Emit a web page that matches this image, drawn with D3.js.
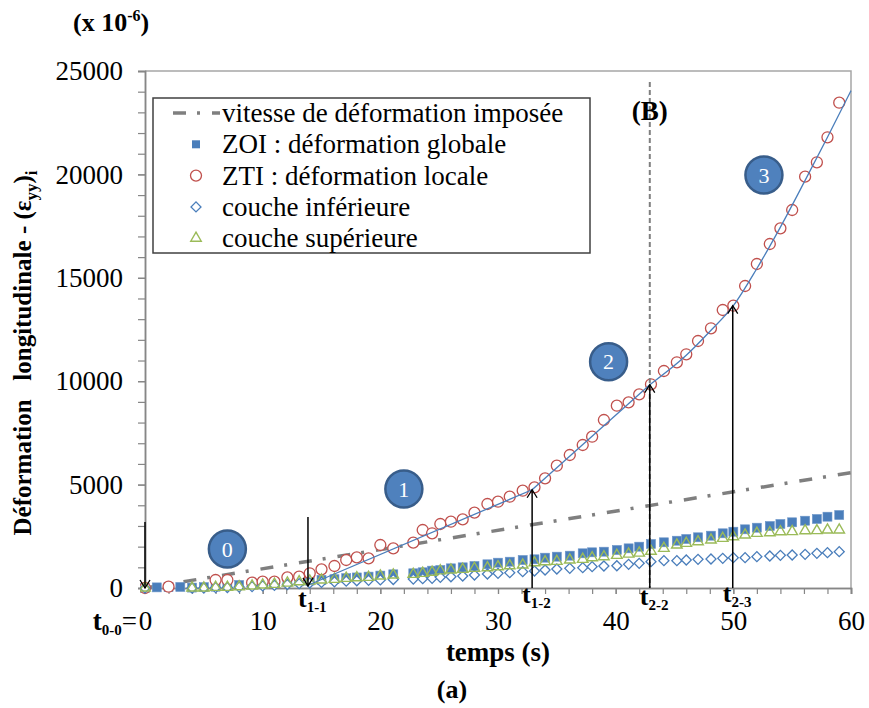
<!DOCTYPE html>
<html>
<head>
<meta charset="utf-8">
<script src="https://cdn.jsdelivr.net/npm/d3@7"></script>
<style>
  body { margin: 0; background: #fff; }
  svg text { font-family: "Liberation Serif", "Tinos", "Times New Roman", "DejaVu Serif", serif !important; }
</style>
</head>
<body>
<div class="chart"></div>
<script>
// time (s) of each sample
const temps = [0, 1, 2, 3, 4, 5, 6, 7, 8, 9.1, 10, 11, 12.1, 13.1, 14, 15, 16.1, 17.1, 18, 19,
  20, 21.1, 22.8, 23.6, 24.4, 25.1, 26, 27, 28, 29.1, 30, 31, 32.1, 33.1, 34, 35, 36.1, 37.2, 38, 39,
  40.1, 41.1, 42, 43, 44.1, 45.2, 46, 47, 48.1, 49.1, 50, 51, 52, 53.1, 54, 55, 56.1, 57.1, 58, 59];

// ZOI : déformation globale
const zoi = [0, 30, 40, 50, 20, 40, 63, 97, 145, 179, 227, 256, 305, 320, 360, 395, 425, 475, 510, 550,
  600, 662, 711, 760, 838, 870, 951, 1000, 1064, 1146, 1224, 1272, 1354, 1388, 1466, 1515, 1563, 1678, 1726, 1756,
  1838, 1918, 1998, 2128, 2210, 2287, 2370, 2452, 2529, 2645, 2722, 2838, 2916, 2998, 3095, 3177, 3254, 3337, 3448, 3530];

// ZTI : déformation locale
const zti = [0, null, 63, null, null, null, 387, 387, null, 256, 305, 305, 517, 546, 711, 904, 1064, 1354, 1484, 1434,
  2079, 1918, 2192, 2805, 2645, 3095, 3206, 3320, 3642, 4062, 4173, 4415, 4705, 4869, 5304, 5914, 6431, 6915, 7316, 8124,
  8815, 8978, 9365, 9850, 10493, 10914, 11301, 11944, 12558, 13443, 13651, 14603, 15667, 16634, 17393, 18279, 19889, 20585, 21794, 23467];

// couche inférieure
const inferieure = [0, null, null, null, 0, 0, 20, 25, 45, 70, 100, 130, 170, 210, 240, 270, 300, 330, 350, 370,
  390, 410, 430, 450, 469, 517, 546, 580, 629, 677, 711, 740, 790, 822, 870, 919, 951, 982, 1030, 1064,
  1078, 1146, 1194, 1272, 1320, 1320, 1354, 1388, 1402, 1434, 1466, 1466, 1515, 1547, 1580, 1596, 1628, 1678, 1708, 1756];

// couche supérieure
const superieure = [0, null, null, null, 0, 0, 34, 34, 63, 97, 145, 179, 240, 305, 338, 387, 421, 469, 498, 517,
  580, 629, 662, 711, 765, 830, 870, 904, 951, 982, 1030, 1078, 1112, 1224, 1272, 1290, 1354, 1388, 1466, 1515,
  1580, 1640, 1690, 1780, 1918, 2079, 2160, 2240, 2321, 2403, 2481, 2563, 2645, 2674, 2722, 2730, 2771, 2775, 2805, 2810];

// vitesse de déformation imposée (end points)
const vitesseT = [0, 60];
const vitesseV = [0, 5580];

// trend lines of the ZTI curve, one per zone
const fitZone1 = [[13.9, 145], [32.9, 4750]];
const fitZone2 = [[32.9, 4750], [42.9, 9830]];
const fitZone3 = [[42.9, 9830], [46, 11250], [48, 12400], [50, 13650], [52, 15450], [54, 17450], [56, 19600], [58, 21800], [60, 24050]];

// zone bubbles
const zoneNames = ['0', '1', '2', '3'];
const zoneT = [7.0, 22.0, 39.4, 52.6];
const zoneV = [1886, 4787, 10944, 19971];

// arrows : time, from, to
const arrowT = [0, 13.85, 32.9, 42.9, 49.95];
const arrowFrom = [3190, 3430, 0, 0, 0];
const arrowTo = [0, 100, 4750, 9830, 13650];
const arrowMain = ['t', 't', 't', 't'];
const arrowSub = ['1-1', '1-2', '2-2', '2-3'];

const lineB = 42.9;

const xTicks = [0, 10, 20, 30, 40, 50, 60];
const yTicks = [0, 5000, 10000, 15000, 20000, 25000];

const legendLabels = ['vitesse de déformation imposée', 'ZOI : déformation globale',
  'ZTI : déformation locale', 'couche inférieure', 'couche supérieure'];

const width = 869;
const height = 708;
const serif = '"Liberation Serif", "Tinos", "Times New Roman", "DejaVu Serif", serif';

const svg = d3.select('.chart').append('svg')
  .attr('width', width)
  .attr('height', height)
  .attr('viewBox', `0 0 ${width} ${height}`)
  .attr('font-family', serif);

const x = d3.scaleLinear().domain([0, 60]).range([145, 851]);
const y = d3.scaleLinear().domain([0, 25000]).range([588, 71]);

const defs = svg.append('defs');
defs.append('clipPath').attr('id', 'plot')
  .append('rect').attr('x', 140).attr('y', 66).attr('width', 712).attr('height', 530);
defs.append('marker')
  .attr('id', 'arrow')
  .attr('viewBox', '-10 -6 12 12')
  .attr('refX', 0).attr('refY', 0)
  .attr('markerWidth', 12).attr('markerHeight', 12)
  .attr('markerUnits', 'userSpaceOnUse')
  .attr('orient', 'auto')
  .append('path')
  .attr('d', 'M-8,-5L0,0L-8,5')
  .attr('fill', 'none')
  .attr('stroke', '#000')
  .attr('stroke-width', 1.3);

/* frame top / right */
svg.append('path')
  .attr('d', `M${x(0)},${y(25000)}H${x(60)}V${y(0)}`)
  .attr('fill', 'none').attr('stroke', '#a6a6a6').attr('stroke-width', 1.5);

/* y axis */
const yMinor = svg.append('g').attr('transform', `translate(${x(0)},0)`)
  .call(d3.axisLeft(y).tickValues(d3.range(0, 25001, 1000)).tickSize(7).tickFormat(''));
const yAxis = svg.append('g').attr('transform', `translate(${x(0)},0)`)
  .call(d3.axisLeft(y).tickValues(yTicks).tickSize(7).tickPadding(15).tickFormat(d3.format('d')));

/* x axis */
const xMinor = svg.append('g').attr('transform', `translate(0,${y(0)})`)
  .call(d3.axisBottom(x).tickValues(d3.range(0, 61, 2)).tickSize(6).tickFormat(''));
const xAxis = svg.append('g').attr('transform', `translate(0,${y(0)})`)
  .call(d3.axisBottom(x).tickValues(xTicks).tickSize(6).tickPadding(17).tickFormat(d3.format('d')));

[yMinor, yAxis, xMinor, xAxis].forEach(g => {
  g.attr('font-family', serif).attr('font-size', 27);
  g.select('.domain').attr('stroke', '#868686').attr('stroke-width', 1.5);
  g.selectAll('.tick line').attr('stroke', '#868686').attr('stroke-width', 1.2);
  g.selectAll('.tick text').attr('font-size', 27).attr('fill', '#000');
});

const plot = svg.append('g').attr('clip-path', 'url(#plot)');

/* imposed strain rate */
plot.append('line')
  .attr('x1', x(vitesseT[0])).attr('y1', y(vitesseV[0]))
  .attr('x2', x(vitesseT[1])).attr('y2', y(vitesseV[1]))
  .attr('stroke', '#7f7f7f').attr('stroke-width', 3.5)
  .attr('stroke-dasharray', '13,11,3,12');

const pts = vals => temps.map((t, i) => ({ t: t, v: vals[i] })).filter(d => d.v !== null);

/* ZOI squares */
plot.selectAll('.zoi').data(pts(zoi)).enter().append('rect')
  .attr('class', 'zoi')
  .attr('x', d => x(d.t) - 4.5).attr('y', d => y(d.v) - 4.5)
  .attr('width', 9).attr('height', 9)
  .attr('fill', '#4a7ebb').attr('stroke', '#6d96c9').attr('stroke-width', 0.6);

/* ZTI circles */
plot.selectAll('.zti').data(pts(zti)).enter().append('circle')
  .attr('class', 'zti')
  .attr('cx', d => x(d.t)).attr('cy', d => y(d.v)).attr('r', 5.5)
  .attr('fill', '#fff').attr('stroke', '#c0504d').attr('stroke-width', 1.3);

/* couche inférieure diamonds */
const diamond = d3.symbol().type(d3.symbolSquare).size(50);
plot.selectAll('.inf').data(pts(inferieure)).enter().append('path')
  .attr('class', 'inf')
  .attr('d', diamond)
  .attr('transform', d => `translate(${x(d.t)},${y(d.v)}) rotate(45)`)
  .attr('fill', '#fff').attr('stroke', '#4a7ebb').attr('stroke-width', 1.3);

/* couche supérieure triangles */
const triangle = d3.symbol().type(d3.symbolTriangle).size(48);
plot.selectAll('.sup').data(pts(superieure)).enter().append('path')
  .attr('class', 'sup')
  .attr('d', triangle)
  .attr('transform', d => `translate(${x(d.t)},${y(d.v)})`)
  .attr('fill', 'none').attr('stroke', '#9bbb59').attr('stroke-width', 1.4);

/* trend lines */
const fitLine = d3.line().x(d => x(d[0])).y(d => y(d[1])).curve(d3.curveMonotoneX);
[fitZone1, fitZone2, fitZone3].forEach(f => {
  plot.append('path').attr('d', fitLine(f))
    .attr('fill', 'none').attr('stroke', '#4a7ebb').attr('stroke-width', 1.3);
});

/* (B) line */
svg.append('line')
  .attr('x1', x(lineB)).attr('x2', x(lineB))
  .attr('y1', 82).attr('y2', y(0))
  .attr('stroke', '#7f7f7f').attr('stroke-width', 2)
  .attr('stroke-dasharray', '5,3');
svg.append('text')
  .attr('x', x(lineB)).attr('y', 120)
  .attr('text-anchor', 'middle')
  .attr('font-size', 27).attr('font-weight', 'bold')
  .text('(B)');

/* arrows */
arrowT.forEach((t, i) => {
  svg.append('line')
    .attr('x1', x(t)).attr('x2', x(t))
    .attr('y1', y(arrowFrom[i])).attr('y2', y(arrowTo[i]))
    .attr('stroke', '#000').attr('stroke-width', 1.5)
    .attr('marker-end', 'url(#arrow)');
});

/* time labels under arrows */
const tLabY = [607, 603, 605, 602];
arrowSub.forEach((s, i) => {
  const tx = svg.append('text')
    .attr('x', x(arrowT[i + 1]) - 10).attr('y', tLabY[i])
    .attr('font-size', 26).attr('font-weight', 'bold');
  tx.append('tspan').text(arrowMain[i]);
  tx.append('tspan').attr('font-size', 15).attr('dy', 5).text(s);
});
const t00 = svg.append('text')
  .attr('x', x(0) - 8).attr('y', 630)
  .attr('text-anchor', 'end')
  .attr('font-size', 27).attr('font-weight', 'bold');
t00.append('tspan').text('t');
t00.append('tspan').attr('font-size', 15).attr('dy', 5).text('0-0');
t00.append('tspan').attr('font-weight', 'normal').attr('dy', -5).text('=');

/* zone bubbles */
zoneNames.forEach((n, i) => {
  const g = svg.append('g').attr('transform', `translate(${x(zoneT[i])},${y(zoneV[i])})`);
  g.append('circle').attr('r', 18.5)
    .attr('fill', '#4f81bd').attr('stroke', '#385d8a').attr('stroke-width', 2.5);
  g.append('text').attr('text-anchor', 'middle').attr('dy', '0.35em')
    .attr('font-size', 22).attr('fill', '#fff').text(n);
});

/* legend */
const lg = svg.append('g');
lg.append('rect')
  .attr('x', 153).attr('y', 98).attr('width', 437).attr('height', 155)
  .attr('fill', '#fff').attr('stroke', '#404040').attr('stroke-width', 1.5);
const rowY = i => 113 + i * 31.3;
legendLabels.forEach((l, i) => {
  lg.append('text').attr('x', 222).attr('y', rowY(i)).attr('dy', '0.33em')
    .attr('font-size', 27).text(l);
});
lg.append('line')
  .attr('x1', 173).attr('x2', 220).attr('y1', rowY(0)).attr('y2', rowY(0))
  .attr('stroke', '#7f7f7f').attr('stroke-width', 3.5)
  .attr('stroke-dasharray', '13,11,3,12');
lg.append('rect').attr('x', 196 - 4).attr('y', rowY(1) - 4).attr('width', 8).attr('height', 8)
  .attr('fill', '#4a7ebb');
lg.append('circle').attr('cx', 196).attr('cy', rowY(2)).attr('r', 5.5)
  .attr('fill', '#fff').attr('stroke', '#c0504d').attr('stroke-width', 1.3);
lg.append('path').attr('d', diamond).attr('transform', `translate(196,${rowY(3)}) rotate(45)`)
  .attr('fill', '#fff').attr('stroke', '#4a7ebb').attr('stroke-width', 1.3);
lg.append('path').attr('d', triangle).attr('transform', `translate(196,${rowY(4)})`)
  .attr('fill', 'none').attr('stroke', '#9bbb59').attr('stroke-width', 1.4);

/* titles */
const yt = svg.append('text')
  .attr('transform', 'translate(31,353) rotate(-90)')
  .attr('text-anchor', 'middle')
  .attr('font-size', 25).attr('font-weight', 'bold')
  .style('white-space', 'pre');
yt.append('tspan').text('Déformation   longitudinale - (ε');
yt.append('tspan').attr('font-size', 17).attr('dy', 6).text('yy');
yt.append('tspan').attr('dy', -6).text(')');
yt.append('tspan').attr('font-size', 17).attr('dy', 6).text('i');

const unit = svg.append('text')
  .attr('x', 73).attr('y', 31)
  .attr('font-size', 26).attr('font-weight', 'bold');
unit.append('tspan').text('(x 10');
unit.append('tspan').attr('font-size', 16).attr('dy', -10).text('-6');
unit.append('tspan').attr('dy', 10).text(')');

svg.append('text')
  .attr('x', 498).attr('y', 661)
  .attr('text-anchor', 'middle')
  .attr('font-size', 27).attr('font-weight', 'bold')
  .text('temps (s)');

svg.append('text')
  .attr('x', 452).attr('y', 698)
  .attr('text-anchor', 'middle')
  .attr('font-size', 26).attr('font-weight', 'bold')
  .text('(a)');
</script>
</body>
</html>
